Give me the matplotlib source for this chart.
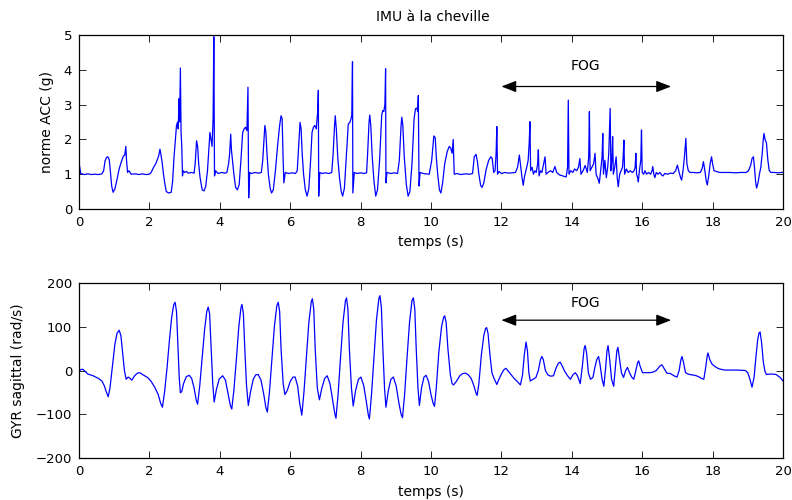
import matplotlib
matplotlib.use('Agg')
import matplotlib.pyplot as plt

# ---------------- data ----------------
acc_t = [0.00, 0.02, 0.05, 0.15, 0.25, 0.35, 0.45, 0.55, 0.65, 0.70, 0.74, 0.78, 0.82, 0.86, 0.89, 0.93, 0.97,
         1.02, 1.08, 1.14, 1.20, 1.26, 1.30, 1.33, 1.35, 1.38, 1.42, 1.48, 1.60, 1.70, 1.80, 1.90, 2.00, 2.05,
         2.12, 2.18, 2.23, 2.27, 2.30, 2.33, 2.36, 2.40, 2.44, 2.48, 2.55, 2.62, 2.66, 2.70, 2.74, 2.77, 2.80,
         2.82, 2.84, 2.86, 2.88, 2.90, 2.92, 2.94, 2.96, 3.00, 3.05, 3.10, 3.20, 3.27, 3.30, 3.34, 3.37, 3.40,
         3.44, 3.50, 3.55, 3.60, 3.65, 3.70, 3.72, 3.75, 3.78, 3.81, 3.83, 3.85, 3.88, 3.95, 4.05, 4.15, 4.20,
         4.25, 4.28, 4.31, 4.33, 4.36, 4.40, 4.45, 4.50, 4.55, 4.60, 4.65, 4.69, 4.73, 4.77, 4.80, 4.82, 4.85,
         4.90, 5.00, 5.10, 5.18, 5.22, 5.26, 5.28, 5.31, 5.34, 5.38, 5.43, 5.47, 5.52, 5.58, 5.64, 5.70, 5.74,
         5.77, 5.80, 5.82, 5.86, 5.95, 6.05, 6.15, 6.20, 6.24, 6.28, 6.31, 6.34, 6.38, 6.43, 6.48, 6.53, 6.58,
         6.62, 6.66, 6.70, 6.74, 6.78, 6.80, 6.81, 6.84, 6.90, 7.00, 7.10, 7.18, 7.22, 7.26, 7.28, 7.31, 7.35,
         7.40, 7.45, 7.49, 7.54, 7.60, 7.65, 7.70, 7.73, 7.75, 7.77, 7.78, 7.82, 7.90, 8.00, 8.10, 8.17, 8.20,
         8.24, 8.26, 8.29, 8.33, 8.38, 8.43, 8.48, 8.54, 8.60, 8.63, 8.66, 8.69, 8.71, 8.72, 8.75, 8.85, 8.95,
         9.05, 9.10, 9.15, 9.17, 9.20, 9.24, 9.30, 9.35, 9.40, 9.46, 9.52, 9.56, 9.60, 9.62, 9.64, 9.66, 9.69,
         9.78, 9.88, 9.95, 10.02, 10.08, 10.12, 10.15, 10.19, 10.24, 10.28, 10.33, 10.39, 10.46, 10.52, 10.56,
         10.60, 10.63, 10.66, 10.74, 10.84, 10.98, 11.10, 11.18, 11.23, 11.28, 11.32, 11.36, 11.41, 11.45,
         11.50, 11.57, 11.64, 11.70, 11.74, 11.78, 11.82, 11.85, 11.87, 11.89, 11.93, 12.00, 12.10, 12.20,
         12.30, 12.40, 12.46, 12.51, 12.54, 12.58, 12.62, 12.66, 12.72, 12.76, 12.79, 12.81, 12.83, 12.87,
         12.91, 12.95, 12.99, 13.03, 13.05, 13.07, 13.11, 13.15, 13.19, 13.24, 13.27, 13.32, 13.40, 13.46,
         13.52, 13.57, 13.65, 13.75, 13.84, 13.88, 13.90, 13.92, 13.97, 14.03, 14.08, 14.14, 14.19, 14.23,
         14.26, 14.32, 14.38, 14.44, 14.48, 14.50, 14.52, 14.57, 14.62, 14.66, 14.69, 14.75, 14.78, 14.82,
         14.86, 14.88, 14.90, 14.94, 14.98, 15.02, 15.05, 15.09, 15.11, 15.14, 15.16, 15.18, 15.22, 15.26,
         15.29, 15.32, 15.36, 15.40, 15.44, 15.46, 15.48, 15.50, 15.55, 15.60, 15.66, 15.72, 15.77, 15.80,
         15.82, 15.84, 15.87, 15.89, 15.92, 15.96, 15.98, 16.00, 16.04, 16.08, 16.12, 16.18, 16.24, 16.28,
         16.30, 16.33, 16.36, 16.40, 16.45, 16.50, 16.55, 16.59, 16.64, 16.72, 16.80, 16.88, 16.95, 17.00,
         17.05, 17.09, 17.12, 17.16, 17.20, 17.24, 17.27, 17.31, 17.36, 17.45, 17.55, 17.65, 17.70, 17.74,
         17.78, 17.82, 17.85, 17.89, 17.93, 17.97, 18.00, 18.04, 18.10, 18.20, 18.35, 18.50, 18.65, 18.80,
         18.95, 19.02, 19.08, 19.12, 19.16, 19.19, 19.22, 19.25, 19.29, 19.33, 19.37, 19.41, 19.44, 19.46,
         19.49, 19.53, 19.57, 19.61, 19.66, 19.75, 19.85, 19.95, 20.00]
acc_v = [1.33, 1.20, 1.02, 0.99, 1.01, 0.99, 1.00, 0.99, 1.01, 1.10, 1.38, 1.48, 1.50, 1.42, 1.10, 0.65, 0.48,
         0.58, 0.85, 1.15, 1.35, 1.52, 1.55, 1.80, 1.40, 1.05, 1.10, 1.00, 1.01, 0.99, 1.01, 0.99, 1.00, 1.05,
         1.20, 1.30, 1.43, 1.55, 1.72, 1.55, 1.35, 1.00, 0.72, 0.50, 0.46, 0.48, 0.80, 1.50, 2.00, 2.40, 2.50,
         2.30, 3.17, 2.50, 4.05, 2.20, 1.80, 0.95, 1.10, 1.05, 1.08, 1.03, 1.05, 1.03, 1.30, 1.96, 1.80, 1.30,
         0.90, 0.55, 0.52, 0.65, 1.10, 1.90, 2.20, 2.00, 1.80, 2.60, 4.95, 0.95, 1.10, 1.02, 1.05, 1.03, 1.05,
         1.30, 1.60, 2.15, 1.70, 1.40, 1.00, 0.62, 0.55, 0.70, 1.40, 2.20, 2.30, 2.35, 2.25, 3.50, 0.32, 1.05,
         1.02, 1.05, 1.03, 1.05, 1.40, 2.10, 2.40, 2.20, 1.60, 1.00, 0.60, 0.46, 0.55, 1.10, 1.80, 2.40, 2.68,
         2.60, 1.40, 0.75, 1.05, 1.02, 1.04, 1.02, 1.10, 1.80, 2.49, 2.30, 1.60, 1.00, 0.55, 0.37, 0.60, 1.40,
         2.20, 2.35, 2.40, 2.30, 2.80, 3.41, 0.37, 1.05, 1.02, 1.04, 1.02, 1.05, 1.60, 2.40, 2.68, 2.30, 1.50,
         0.90, 0.50, 0.37, 0.60, 1.60, 2.44, 2.50, 2.60, 2.70, 4.23, 0.46, 1.05, 1.02, 1.04, 1.02, 1.04, 1.60,
         2.50, 2.70, 2.40, 1.50, 0.80, 0.37, 0.55, 1.40, 2.70, 2.83, 2.80, 3.00, 4.03, 0.75, 1.05, 1.02, 1.04,
         1.02, 1.40, 2.40, 2.64, 2.40, 1.50, 0.70, 0.37, 0.50, 1.30, 2.60, 2.88, 2.90, 2.80, 3.26, 0.66, 1.05,
         1.02, 1.01, 1.00, 1.40, 2.10, 2.05, 1.50, 1.00, 0.55, 0.46, 0.75, 1.30, 1.65, 1.80, 1.75, 1.60, 2.00,
         1.00, 1.02, 0.99, 1.01, 1.00, 1.02, 1.50, 1.57, 1.35, 1.00, 0.68, 0.62, 0.75, 1.15, 1.40, 1.50, 1.45,
         1.05, 1.10, 1.60, 2.37, 1.00, 1.08, 1.02, 1.05, 1.03, 1.04, 1.05, 1.20, 1.55, 1.30, 0.95, 0.68, 0.95,
         1.20, 1.40, 1.90, 2.51, 1.10, 1.20, 1.00, 1.10, 1.05, 1.30, 1.70, 0.95, 1.10, 1.05, 1.25, 1.50, 1.00,
         1.05, 1.10, 1.05, 1.22, 1.05, 0.98, 0.95, 0.92, 1.20, 3.13, 1.00, 1.10, 1.05, 1.15, 1.10, 1.20, 1.45,
         1.00, 1.10, 1.25, 1.05, 1.50, 2.80, 1.10, 1.20, 1.30, 1.60, 1.00, 0.85, 0.74, 1.10, 1.50, 2.17, 1.00,
         1.40, 0.90, 1.20, 1.60, 2.89, 1.10, 1.40, 2.08, 1.00, 1.20, 1.50, 0.90, 0.64, 1.00, 1.10, 1.20, 1.50,
         1.98, 1.00, 1.15, 1.05, 1.10, 1.05, 1.10, 1.20, 1.60, 1.00, 0.90, 0.78, 1.10, 1.40, 2.27, 1.05, 1.00,
         1.10, 1.00, 1.05, 1.00, 1.10, 1.22, 1.00, 0.90, 1.05, 1.00, 1.05, 0.98, 0.95, 1.02, 1.00, 1.03, 1.02,
         1.10, 1.26, 1.05, 0.90, 0.83, 1.10, 1.50, 2.03, 1.30, 1.10, 1.05, 1.05, 1.04, 1.05, 1.15, 1.36, 1.10,
         0.80, 0.69, 0.95, 1.30, 1.50, 1.30, 1.10, 1.08, 1.05, 1.05, 1.05, 1.04, 1.05, 1.05, 1.10, 1.25, 1.45,
         1.50, 1.20, 0.80, 0.60, 0.75, 1.00, 1.20, 1.60, 2.00, 2.17, 2.00, 1.90, 1.40, 1.10, 1.05, 1.05, 1.04,
         1.05, 1.05]

gyr_t = [0.00, 0.05, 0.10, 0.15, 0.25, 0.40, 0.55, 0.65, 0.72, 0.78, 0.83, 0.88, 0.95, 1.02, 1.08, 1.14, 1.19,
         1.24, 1.29, 1.34, 1.40, 1.45, 1.50, 1.58, 1.66, 1.73, 1.82, 1.95, 2.05, 2.15, 2.25, 2.32, 2.37, 2.43,
         2.50, 2.57, 2.63, 2.69, 2.73, 2.77, 2.81, 2.85, 2.88, 2.92, 2.97, 3.05, 3.13, 3.20, 3.27, 3.33, 3.37,
         3.43, 3.50, 3.57, 3.63, 3.67, 3.71, 3.75, 3.80, 3.84, 3.90, 3.98, 4.08, 4.16, 4.24, 4.30, 4.34, 4.40,
         4.47, 4.54, 4.60, 4.63, 4.67, 4.71, 4.76, 4.81, 4.87, 4.95, 5.02, 5.09, 5.17, 5.25, 5.31, 5.35, 5.41,
         5.48, 5.55, 5.62, 5.66, 5.70, 5.74, 5.80, 5.85, 5.92, 6.00, 6.08, 6.14, 6.21, 6.27, 6.33, 6.39, 6.46,
         6.53, 6.60, 6.63, 6.67, 6.71, 6.77, 6.83, 6.90, 6.98, 7.05, 7.13, 7.21, 7.27, 7.30, 7.36, 7.43, 7.50,
         7.57, 7.60, 7.64, 7.68, 7.74, 7.79, 7.86, 7.94, 8.01, 8.09, 8.17, 8.22, 8.25, 8.31, 8.38, 8.45, 8.52,
         8.55, 8.59, 8.63, 8.68, 8.72, 8.79, 8.86, 8.93, 9.01, 9.09, 9.15, 9.19, 9.25, 9.32, 9.39, 9.46, 9.50,
         9.54, 9.58, 9.63, 9.67, 9.73, 9.80, 9.86, 9.93, 10.00, 10.06, 10.10, 10.15, 10.22, 10.30, 10.36,
         10.39, 10.43, 10.48, 10.55, 10.60, 10.64, 10.72, 10.82, 10.90, 10.98, 11.06, 11.14, 11.22, 11.28,
         11.31, 11.36, 11.43, 11.50, 11.55, 11.58, 11.62, 11.67, 11.73, 11.78, 11.83, 11.87, 11.93, 12.00,
         12.07, 12.13, 12.20, 12.28, 12.36, 12.45, 12.54, 12.60, 12.65, 12.70, 12.74, 12.78, 12.82, 12.90,
         12.98, 13.05, 13.11, 13.15, 13.19, 13.25, 13.32, 13.40, 13.48, 13.55, 13.62, 13.67, 13.73, 13.80,
         13.88, 13.96, 14.03, 14.10, 14.16, 14.24, 14.30, 14.35, 14.38, 14.42, 14.47, 14.53, 14.60, 14.65,
         14.71, 14.76, 14.80, 14.86, 14.91, 14.96, 15.00, 15.03, 15.07, 15.13, 15.19, 15.24, 15.28, 15.31,
         15.35, 15.41, 15.47, 15.53, 15.58, 15.64, 15.70, 15.76, 15.82, 15.87, 15.90, 15.94, 16.01, 16.10,
         16.20, 16.30, 16.40, 16.50, 16.56, 16.62, 16.70, 16.80, 16.90, 16.99, 17.05, 17.10, 17.13, 17.17,
         17.23, 17.30, 17.40, 17.50, 17.60, 17.68, 17.75, 17.80, 17.85, 17.87, 17.92, 17.98, 18.05, 18.15,
         18.22, 18.35, 18.50, 18.70, 18.93, 19.00, 19.06, 19.12, 19.18, 19.23, 19.28, 19.32, 19.35, 19.39,
         19.44, 19.49, 19.53, 19.65, 19.80, 19.92, 20.00]
gyr_v = [-2, 2, 3, 0, -8, -12, -18, -24, -35, -50, -60, -40, 10, 60, 85, 92, 80,
         40, 0, -20, -15, -18, -22, -12, -6, -5, -10, -16, -25, -38, -55, -75, -84, -50,
         5, 70, 120, 150, 156, 135, 60, -20, -51, -48, -30, -14, -11, -18, -40, -68, -77,
         -35, 30, 95, 135, 145, 130, 60, -30, -72, -45, -20, -12, -22, -55, -80, -88, -45,
         25, 100, 143, 151, 130, 50, -35, -80, -50, -20, -10, -9, -22, -55, -85, -95, -50,
         25, 100, 148, 156, 135, 50, -30, -55, -45, -25, -15, -15, -35, -75, -102, -50, 30,
         110, 158, 164, 140, 50, -40, -67, -40, -18, -12, -30, -70, -100, -109, -55, 30, 110,
         160, 166, 140, 50, -40, -81, -45, -20, -15, -35, -75, -102, -111, -55, 30, 115, 165,
         171, 145, 55, -40, -84, -45, -20, -15, -35, -75, -100, -108, -55, 30, 110, 160, 166,
         140, 50, -40, -80, -40, -15, -11, -25, -55, -75, -82, -40, 40, 100, 122,
         125, 110, 50, -10, -30, -33, -25, -12, -7, -6, -10, -18, -35, -52,
         -57, -30, 35, 80, 96, 98, 85, 40, -5, -16, -25, -32, -20, -8,
         2, 5, -2, -10, -18, -25, -33, -10, 35, 65, 45, -5, -24, -20,
         -16, 0, 25, 32, 25, 0, -10, -13, -12, 5, 17, 19, 10, -2,
         -12, -20, -10, -5, -12, -30, 10, 50, 57, 40, -5, -20, -16, 5,
         25, 32, 15, -20, -36, 5, 45, 57, 30, -20, -36, 10, 45, 53,
         30, -5, -16, 0, 7, -5, -15, -20, 0, 18, 22, 10, -5, -5,
         -5, -4, 0, 10, 13, 5, -6, -7, -12, -15, 0, 25, 32, 20,
         -5, -8, -10, -11, -14, -18, -20, 5, 35, 40, 25, 15, 10, 5,
         3, 1, 1, 1, 0, -5, -20, -38, -15, 30, 70, 86, 88, 65,
         20, -3, -9, -8, -9, -16, -24]

x_ticks = [0, 2, 4, 6, 8, 10, 12, 14, 16, 18, 20]
acc_ticks = [0, 1, 2, 3, 4, 5]
gyr_ticks = [-200, -100, 0, 100, 200]

title = 'IMU à la cheville'
xlabel = 'temps (s)'
acc_label = 'norme ACC (g)'
gyr_label = 'GYR sagittal (rad/s)'
fog_label = 'FOG'
fog_start, fog_end = 12.0, 16.82

# ---------------- figure ----------------
plt.rcParams['font.family'] = ['DejaVu Sans']
W, H = 792, 500
fig = plt.figure(figsize=(W / 100, H / 100), dpi=100)
ax1 = fig.add_axes([79 / W, 1 - 209 / H, 704 / W, 174 / H])
ax2 = fig.add_axes([79 / W, 1 - 458 / H, 704 / W, 175 / H])

line_color = '#0000ff'
ax1.plot(acc_t, acc_v, color=line_color, lw=0.9)
ax2.plot(gyr_t, gyr_v, color=line_color, lw=0.9)

ax1.set_ylim(0, 5)
ax1.set_yticks(acc_ticks)
ax2.set_ylim(-200, 200)
ax2.set_yticks(gyr_ticks)

for ax in (ax1, ax2):
    ax.set_xlim(0, 20)
    ax.set_xticks(x_ticks)
    ax.tick_params(direction='in', top=True, right=True, length=5, width=0.6,
                   labelsize=9.5, pad=5, colors='black')
    for sp in ax.spines.values():
        sp.set_linewidth(0.9)
        sp.set_color('black')

# annotations
ax1.annotate('', xy=(fog_end, 3.52), xytext=(fog_start, 3.52),
             arrowprops=dict(arrowstyle='<|-|>,head_length=0.9,head_width=0.35',
                             color='black', lw=0.9, shrinkA=0, shrinkB=0))
ax1.text(14.4, 4.11, fog_label, ha='center', va='center', fontsize=10)
ax2.annotate('', xy=(fog_end, 115), xytext=(fog_start, 115),
             arrowprops=dict(arrowstyle='<|-|>,head_length=0.9,head_width=0.35',
                             color='black', lw=0.9, shrinkA=0, shrinkB=0))
ax2.text(14.4, 154, fog_label, ha='center', va='center', fontsize=10)

# texts
fig.text(433 / W, 1 - 17 / H, title, ha='center', va='center', fontsize=10)
fig.text(431 / W, 1 - 242 / H, xlabel, ha='center', va='center', fontsize=10)
fig.text(431 / W, 1 - 492 / H, xlabel, ha='center', va='center', fontsize=10)
fig.text(47 / W, 1 - 122 / H, acc_label, ha='center', va='center', rotation=90, fontsize=10)
fig.text(18 / W, 1 - 371 / H, gyr_label, ha='center', va='center', rotation=90, fontsize=10)

fig.savefig('out.png', dpi=100)
